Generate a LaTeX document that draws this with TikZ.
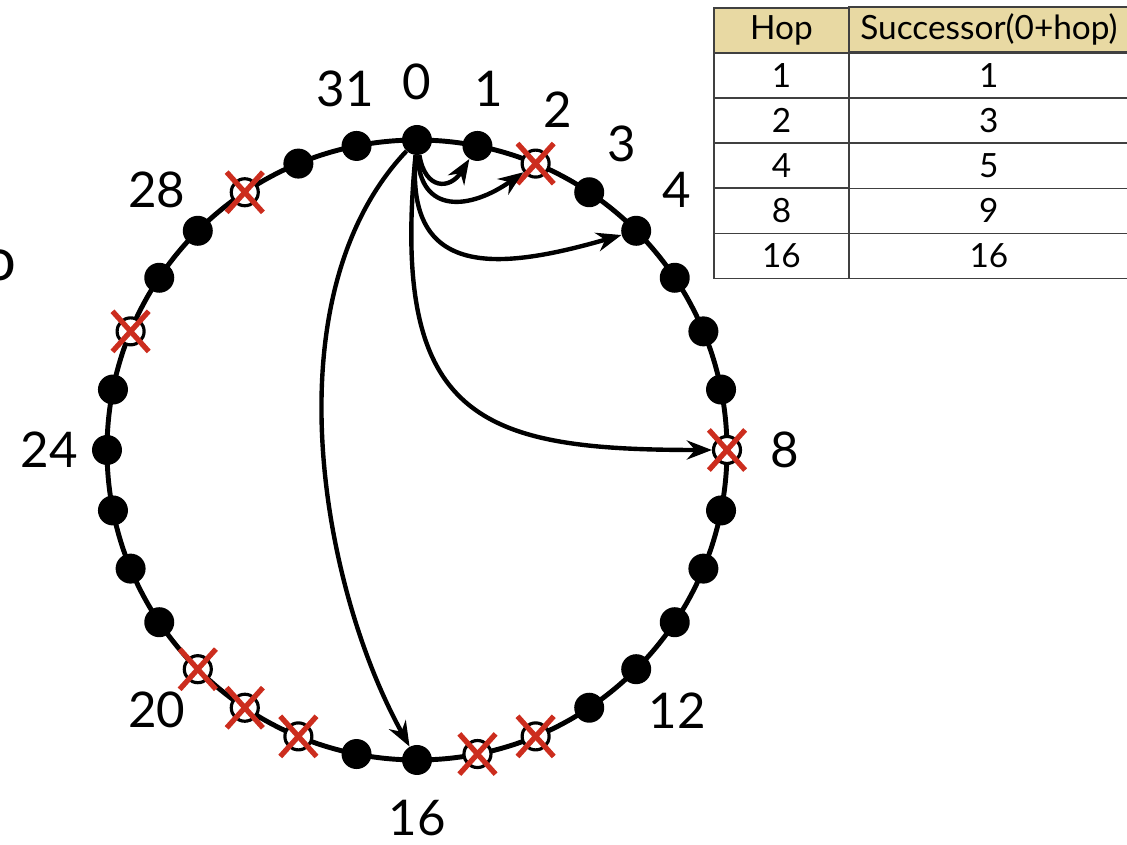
\documentclass[tikz,border=0pt]{standalone}
\usepackage{fontspec}
\setmainfont{Lato}
\usetikzlibrary{arrows.meta, positioning, shapes.misc, matrix}
\definecolor{failred}{RGB}{204,45,30}
\definecolor{headtan}{RGB}{232,217,163}

\begin{document}
\begin{tikzpicture}[x=0.02cm, y=0.02cm,
      dot/.style={circle, fill=black, minimum size=0.6cm, inner sep=0pt},
      dead/.style={circle, draw=black, line width=1.8pt, fill=white, minimum size=0.54cm, inner sep=0pt},
      xmark/.style={cross out, draw=failred, line width=3pt, minimum width=0.62cm, minimum height=0.7cm, inner sep=0pt},
      lbl/.style={font=\fontsize{28}{32}\selectfont},
      ring/.style={line width=2.8pt},
      arr/.style={-{Stealth[length=5mm, width=3.8mm]}, line width=2.5pt},
      cell/.style={draw=black!75, line width=0.7pt, minimum height=0.9cm, inner sep=0pt, font=\fontsize{19}{22}\selectfont}
    ]
    \useasboundingbox (0,0) rectangle (1127,845);

    % ring of 32 ids, 0 at the top
    \begin{scope}[shift={(417,395)}]
      \draw[ring] (0,0) circle (310);
      \foreach \k in {0,1,3,4,5,6,7,9,10,11,12,13,16,17,21,22,23,24,25,27,28,30,31}
        {\node[dot] (n\k) at (90-\k*11.25:310) {};}
      \foreach \k in {2,8,14,15,18,19,20,26,29} {
        \node[dead] (n\k) at (90-\k*11.25:310) {};
        \node[xmark] (x\k) at (n\k) {};
      }
      \foreach \k in {0,1,2,3,4,8,12,16,20,24,28,31}
        {\node[lbl] (l\k) at (90-\k*11.25:368) {\k};}
    \end{scope}

    \node[font=\fontsize{34}{38}\selectfont, anchor=east, inner sep=0pt] (cut) at (17,580) {o};

    % finger pointers of node 0
    \draw[arr] (n0) .. controls (425,655) and (450,655) .. (n1);
    \draw[arr] (n0) .. controls (420,630) and (470,635) .. (n2);
    \draw[arr] (n0) .. controls (405,565) and (500,575) .. (n4);
    \draw[arr] (n0) .. controls (390,425) and (480,395) .. (n8);
    \draw[arr] (n0) .. controls (270,550) and (320,260) .. (n16);

    \matrix[matrix of nodes, anchor=north west, inner sep=0pt,
      row sep=-0.7pt, column sep=-0.7pt,
      column 1/.style={nodes={cell, minimum width=2.7cm}},
      column 2/.style={nodes={cell, minimum width=5.6cm}},
      row 1/.style={nodes={fill=headtan}}] (hops) at (713,839) {
      Hop & Successor(0+hop) \\
      1 & 1 \\
      2 & 3 \\
      4 & 5 \\
      8 & 9 \\
      16 & 16 \\
    };
  \end{tikzpicture}
\end{document}
